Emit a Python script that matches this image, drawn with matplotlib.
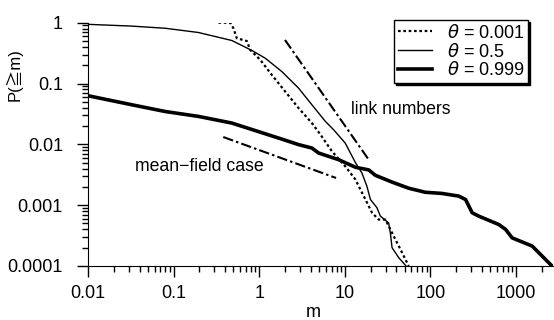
import matplotlib
matplotlib.use("Agg")
import matplotlib.pyplot as plt
from matplotlib import font_manager

# fuente estrecha si existe
names = set(f.name for f in font_manager.fontManager.ttflist)
base = 'Liberation Sans Narrow' if 'Liberation Sans Narrow' in names else 'Liberation Sans'
plt.rcParams['font.family'] = [base, 'Noto Sans CJK JP', 'DejaVu Sans']

# datos
m_001 = [0.334, 0.458, 0.50, 0.547, 0.716, 0.785, 1.03, 1.40, 2.01, 2.88, 4.12, 5.2,
         7.06, 10.1, 13.3, 17.4, 20.8, 24.8, 29.8, 37.2, 44.6, 55.7]
p_001 = [1.0, 1.0, 0.81, 0.555, 0.50, 0.357, 0.245, 0.139, 0.074, 0.0395, 0.0224, 0.0144,
         0.0077, 0.00436, 0.00264, 0.00124, 0.00075, 0.00058, 0.00058, 0.00031, 0.000188, 0.0001]

m_05 = [0.01, 0.032, 0.08, 0.195, 0.478, 0.82, 1.18, 1.84, 2.88, 4.12, 5.9, 7.5, 10.1,
        13.3, 15.8, 18.1, 19.9, 23.7, 26.0, 32.5, 34.0, 35.6, 42.6, 51.9]
p_05 = [0.94, 0.88, 0.81, 0.69, 0.51, 0.35, 0.26, 0.157, 0.084, 0.0448, 0.024, 0.017, 0.0105,
        0.005, 0.0034, 0.00205, 0.00124, 0.00091, 0.00066, 0.00051, 0.00035, 0.0002, 0.000137, 0.0001]

m_0999 = [0.01, 0.0324, 0.0795, 0.195, 0.478, 1.68, 2.88, 4.12, 4.94, 8.46, 13.3, 19, 22.7,
          35.5, 55.7, 87, 136, 214, 257, 307, 367, 630, 754, 900, 1540, 2630]
p_0999 = [0.063, 0.0448, 0.0347, 0.0288, 0.0224, 0.0127, 0.0099, 0.0087, 0.0072, 0.0056, 0.0042,
          0.0038, 0.0031, 0.0024, 0.0019, 0.00163, 0.00156, 0.00141, 0.00124, 0.00075, 0.00066,
          0.00048, 0.0004, 0.00029, 0.000213, 0.0001]

# rectas de referencia (extremos)
link_m = [2.0, 19.0]
link_p = [0.52, 0.0056]
mf_m = [0.38, 7.9]
mf_p = [0.0132, 0.0028]

labels = [r'$\theta$ = 0.001', r'$\theta$ = 0.5', r'$\theta$ = 0.999']

fig = plt.figure(figsize=(5.54, 3.20), dpi=100)
ax = fig.add_axes([88/554, 1 - 266/320, 465/554, 243.3/320])

ax.plot(m_001, p_001, color='black', lw=1.6, ls=(0, (1.2, 1.2)), label=labels[0])
ax.plot(m_05, p_05, color='black', lw=1.0, label=labels[1])
ax.plot(m_0999, p_0999, color='black', lw=2.6, label=labels[2])

ax.plot(link_m, link_p, color='black', lw=1.5, ls=(0, (5, 1.5, 1.2, 1.5)))
ax.plot(mf_m, mf_p, color='black', lw=1.5, ls=(0, (5, 1.5, 1.2, 1.5)))

ax.text(11.7, 0.037, 'link numbers', fontsize=12.7, va='center')
ax.text(0.035, 0.0043, 'mean\u2212field case', fontsize=12.7, va='center')

ax.set_xscale('log')
ax.set_yscale('log')
ax.set_xlim(0.01, 2700)
ax.set_ylim(0.0001, 1)
ax.set_xticks([0.01, 0.1, 1, 10, 100, 1000])
ax.set_xticklabels(['0.01', '0.1', '1', '10', '100', '1000'])
ax.set_yticks([0.0001, 0.001, 0.01, 0.1, 1])
ax.set_yticklabels(['0.0001', '0.001', '0.01', '0.1', '1'])

for s in ['top', 'right']:
    ax.spines[s].set_visible(False)
ax.tick_params(which='major', length=8, width=1, labelsize=13)
ax.tick_params(which='minor', length=4.5, width=1)
ax.tick_params(axis='y', which='major', pad=10)
ax.tick_params(axis='x', which='major', pad=6)

ax.set_xlabel('m', fontsize=13)
ax.xaxis.set_label_coords(0.484, -0.155)
ax.set_ylabel('P(\u2267m)', fontsize=12)
ax.yaxis.set_label_coords(-0.14, 0.785)

leg = ax.legend(loc='upper right', bbox_to_anchor=(528/554, 1 - 20/320),
                bbox_transform=fig.transFigure, fontsize=13, frameon=True, fancybox=False,
                edgecolor='black', framealpha=1, handlelength=1.9, labelspacing=0.05,
                borderpad=0.2, handletextpad=0.8, borderaxespad=0,
                shadow={'color': 'black', 'alpha': 1, 'ox': 1.5, 'oy': -1.5})
leg.get_frame().set_linewidth(1.0)

fig.savefig('out.png', dpi=100)
